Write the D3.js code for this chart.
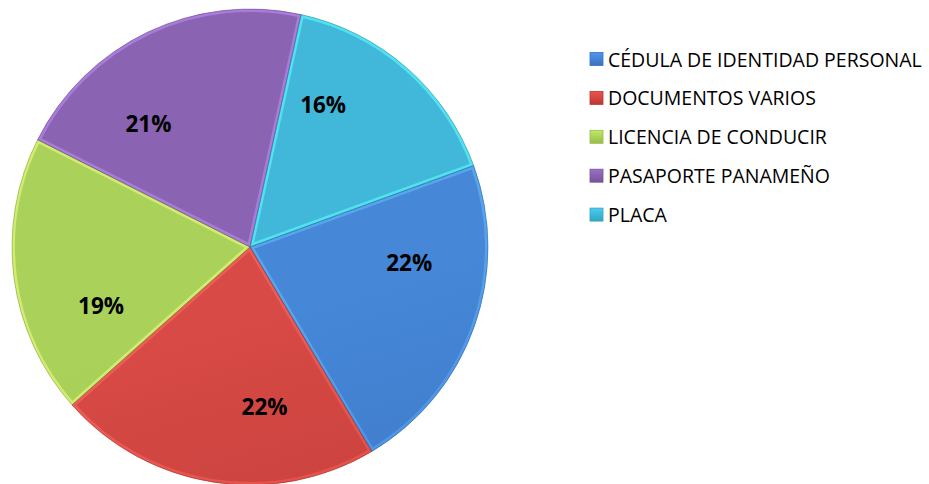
<!DOCTYPE html>
<html><head><meta charset="utf-8">
<script src="https://cdn.jsdelivr.net/npm/d3@7"></script>
<style>body{margin:0;background:#fff;} svg{display:block;}</style>
</head><body>
<svg id="c" width="929" height="484"></svg>
<script>
const categories = ["CÉDULA DE IDENTIDAD PERSONAL","DOCUMENTOS VARIOS","LICENCIA DE CONDUCIR","PASAPORTE PANAMEÑO","PLACA"];
const values = [22, 22, 19, 21, 16];
const colorsTop = ["#4687d8","#d84a45","#aad25a","#8a64b2","#41b8da"];
const colorsBottom = ["#3a72bc","#b83835","#97bd4c","#77549a","#35a3c2"];

const cx = 250, cy = 247, R = 238;
const svg = d3.select("#c");
const defs = svg.append("defs");

colorsTop.forEach((c,i)=>{
  const g = defs.append("linearGradient").attr("id","g"+i)
    .attr("gradientUnits","userSpaceOnUse")
    .attr("x1",cx-R*0.3).attr("y1",cy-R).attr("x2",cx+R*0.3).attr("y2",cy+R);
  g.append("stop").attr("offset","0%").attr("stop-color",c);
  g.append("stop").attr("offset","100%").attr("stop-color",colorsBottom[i]);
  const b = defs.append("linearGradient").attr("id","b"+i)
    .attr("gradientUnits","userSpaceOnUse")
    .attr("x1",cx-R*0.5).attr("y1",cy-R).attr("x2",cx+R*0.5).attr("y2",cy+R);
  b.append("stop").attr("offset","0%").attr("stop-color",d3.color(c).brighter(0.9));
  b.append("stop").attr("offset","50%").attr("stop-color",d3.color(c).brighter(0.3));
  b.append("stop").attr("offset","100%").attr("stop-color",d3.color(colorsBottom[i]).darker(0.6));
});

const startA = 70*Math.PI/180;
const pie = d3.pie().sort(null).value(d=>d)
  .startAngle(startA).endAngle(startA+2*Math.PI);
const arcs = pie(values);
const arc = d3.arc().innerRadius(0).outerRadius(R);
const g = svg.append("g").attr("transform",`translate(${cx},${cy})`);

arcs.forEach((a,i)=>{
  defs.append("clipPath").attr("id","cp"+i).append("path").attr("d",arc(a));
});
g.selectAll("path.s").data(arcs).enter().append("path").attr("class","s")
  .attr("d",arc).attr("fill",(d,i)=>`url(#g${i})`);
// bevel
g.selectAll("path.b").data(arcs).enter().append("path").attr("class","b")
  .attr("d",arc).attr("fill","none").attr("clip-path",(d,i)=>`url(#cp${i})`)
  .attr("stroke",(d,i)=>`url(#b${i})`).attr("stroke-width",6).attr("stroke-opacity",0.6);
g.selectAll("path.e").data(arcs).enter().append("path").attr("class","e")
  .attr("d",arc).attr("fill","none")
  .attr("stroke",(d,i)=>d3.color(colorsBottom[i]).darker(0.8)).attr("stroke-width",0.8).attr("stroke-opacity",0.6);

// labels
const shift = -14*Math.PI/180;
const lr = 160;
g.selectAll("text.l").data(arcs).enter().append("text").attr("class","l")
  .attr("x",d=>{const m=(d.startAngle+d.endAngle)/2+shift; return lr*Math.sin(m);})
  .attr("y",d=>{const m=(d.startAngle+d.endAngle)/2+shift; return -lr*Math.cos(m);})
  .attr("text-anchor","middle").attr("dominant-baseline","central")
  .attr("font-family","'Open Sans', sans-serif").attr("font-weight","bold").attr("font-size",22.5)
  .attr("fill","#000")
  .text(d=>Math.round(d.value/d3.sum(values)*100)+"%");

// legend
colorsTop.forEach((c,i)=>{
  const gg = defs.append("linearGradient").attr("id","lgg"+i).attr("x1",0).attr("y1",0).attr("x2",0).attr("y2",1);
  gg.append("stop").attr("offset","0%").attr("stop-color",d3.color(c).brighter(0.3));
  gg.append("stop").attr("offset","100%").attr("stop-color",colorsBottom[i]);
});
const lg = svg.append("g").attr("transform","translate(590,59)");
const rowH = 38.9;
const items = lg.selectAll("g").data(categories).enter().append("g")
  .attr("transform",(d,i)=>`translate(0,${i*rowH})`);
items.append("rect").attr("x",0).attr("y",-6.5).attr("width",13).attr("height",13)
  .attr("fill",(d,i)=>`url(#lgg${i})`).attr("stroke",(d,i)=>colorsBottom[i]).attr("stroke-width",0.8);
const txt = items.append("text").attr("x",18).attr("y",0).attr("dominant-baseline","central")
  .attr("font-family","'Open Sans', sans-serif").attr("font-size",16).attr("fill","#000")
  .text(d=>d);
const w0 = txt.nodes()[0].getComputedTextLength();
txt.attr("font-size",16*314/w0);
</script>
</body></html>
